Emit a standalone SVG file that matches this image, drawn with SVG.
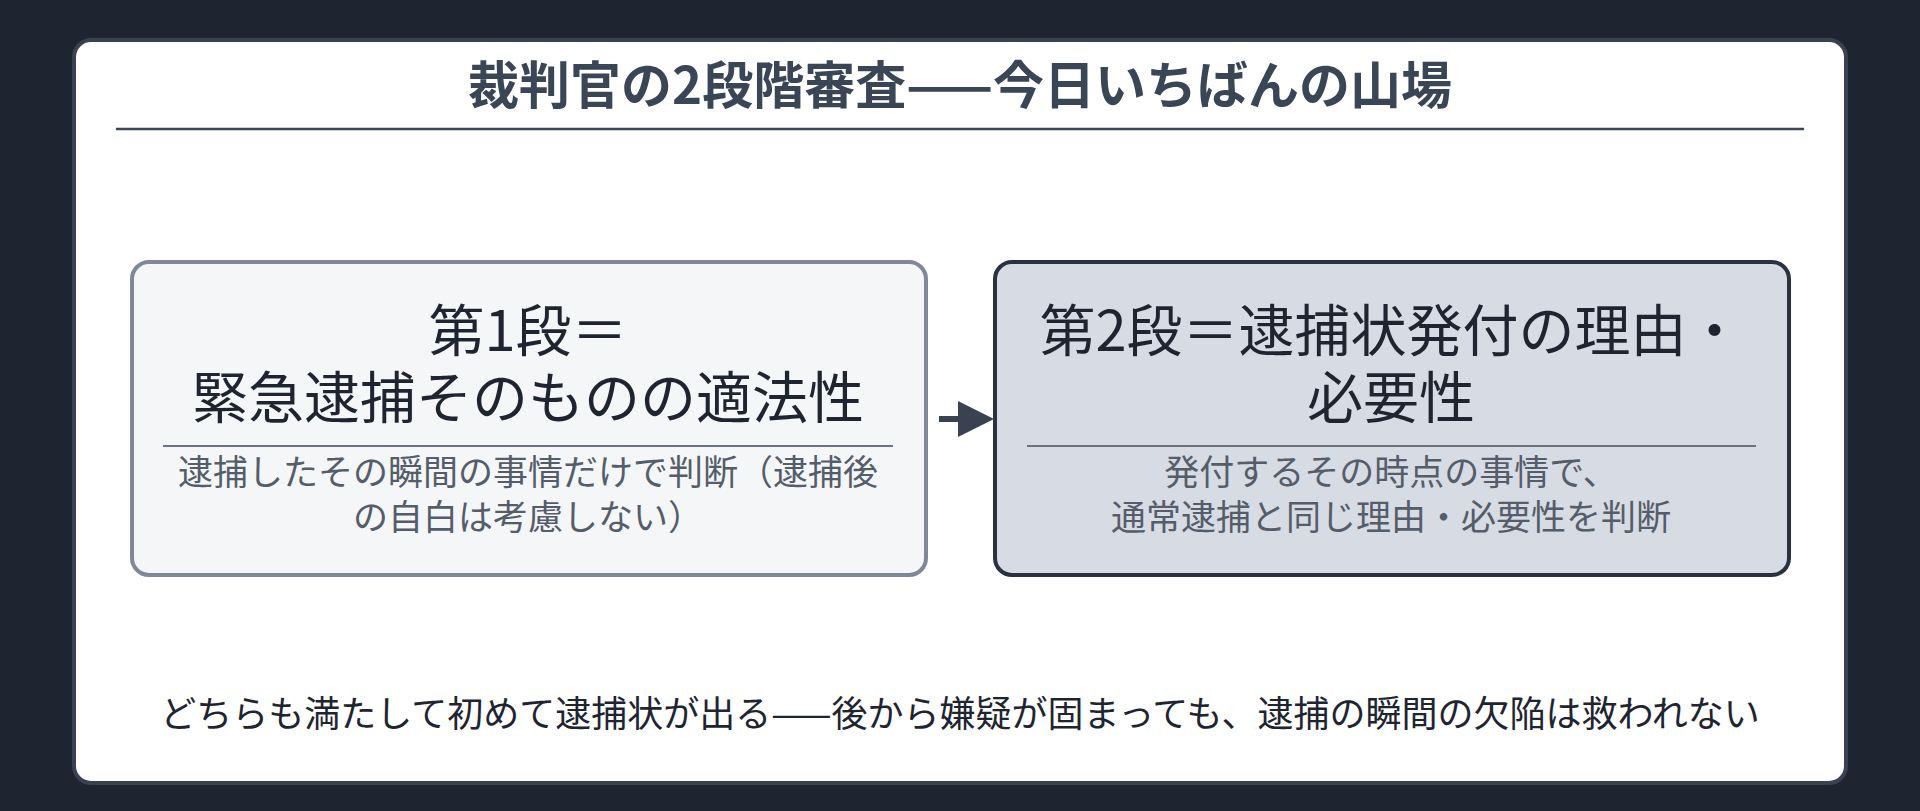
<svg xmlns="http://www.w3.org/2000/svg" width="1920" height="811" viewBox="0 0 1920 811">
<defs>
<style>
text{font-family:"Noto Sans CJK JP","Noto Sans",sans-serif;text-anchor:middle}
.t{font-size:51px;font-weight:bold;fill:#3a4556}
.h{font-size:56px;fill:#1e2430}
.s{font-size:35px;fill:#555d6a}
.b{font-size:36px;fill:#1e2430}
</style>
<marker id="ah" markerWidth="6" markerHeight="6" refX="3" refY="3" orient="auto" markerUnits="strokeWidth"><path d="M0,0L6,3L0,6z" fill="#3a4252"/></marker>
</defs>
<rect width="1920" height="811" fill="#1e2430"/>
<rect x="74" y="40" width="1772" height="743" rx="17" fill="#fff" stroke="#3a4252" stroke-width="4"/>
<g id="title"><text class="t" x="960" y="104">裁判官の2段階審査——今日いちばんの山場</text>
<line x1="116" y1="129" x2="1804" y2="129" stroke="#3a4556" stroke-width="2.5"/></g>
<g id="n1">
<rect x="132" y="262" width="794" height="313" rx="17" fill="#f4f6f8" stroke="#808898" stroke-width="4"/>
<text class="h" x="528" y="351">第1段＝</text>
<text class="h" x="528" y="418">緊急逮捕そのものの適法性</text>
<line x1="163" y1="446" x2="893" y2="446" stroke="#6a7280" stroke-width="2"/>
<text class="s" x="528" y="485">逮捕したその瞬間の事情だけで判断（逮捕後</text>
<text class="s" x="528" y="530">の自白は考慮しない）</text>
</g>
<g id="n2">
<rect x="995" y="262" width="794" height="313" rx="17" fill="#d7dbe3" stroke="#2a3140" stroke-width="4"/>
<text class="h" x="1391" y="351">第2段＝逮捕状発付の理由・</text>
<text class="h" x="1391" y="418">必要性</text>
<line x1="1027" y1="446" x2="1756" y2="446" stroke="#6a7280" stroke-width="2"/>
<text class="s" x="1391" y="485">発付するその時点の事情で、</text>
<text class="s" x="1391" y="530">通常逮捕と同じ理由・必要性を判断</text>
</g>
<g id="connectors"><line x1="939" y1="419" x2="976" y2="419" stroke="#3a4252" stroke-width="6" marker-end="url(#ah)"/></g>
<g id="footer"><text class="b" x="960" y="727">どちらも満たして初めて逮捕状が出る——後から嫌疑が固まっても、逮捕の瞬間の欠陥は救われない</text></g>
</svg>
